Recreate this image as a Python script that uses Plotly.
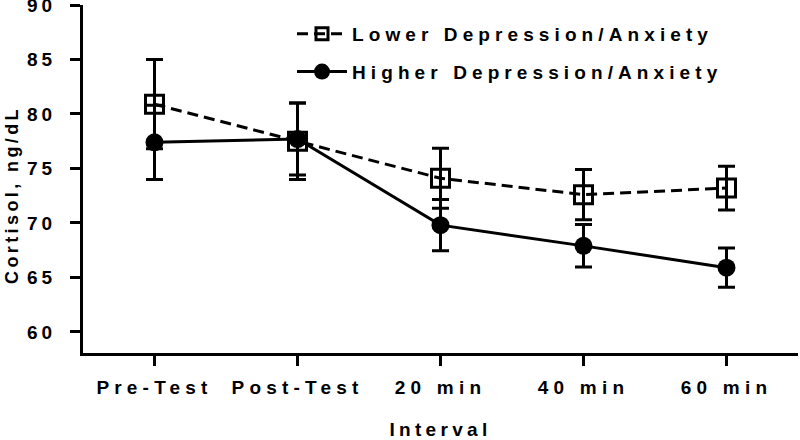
import plotly.graph_objects as go

categories = ["Pre-Test", "Post-Test", "20 min", "40 min", "60 min"]
lower = [80.9, 77.5, 74.1, 72.6, 73.2]
lower_err = [4.1, 3.5, 2.75, 2.3, 2.0]
higher = [77.4, 77.7, 69.8, 67.9, 65.9]
higher_err = [3.4, 3.3, 2.35, 1.95, 1.8]
y_ticks = [60, 65, 70, 75, 80, 85, 90]
series_names = ["Lower Depression/Anxiety", "Higher Depression/Anxiety"]
x_title = "Interval"
y_title = "Cortisol, ng/dL"

LS = "letter-spacing:5.2px"


def sp(t, ls=LS):
    return f'<span style="{ls}">{t}</span>'


xi = list(range(len(categories)))
FAM = "Liberation Sans, Arial, sans-serif"
FS = 19
FONT = dict(family=FAM, size=FS, color="black", weight="bold")

# plot-area geometry (px)
L, R, T, B = 83, 2, 5, 87
PW, PH = 800 - L - R, 440 - T - B

fig = go.Figure()
# data traces
fig.add_trace(go.Scatter(
    x=xi, y=lower, mode="lines+markers", showlegend=False,
    line=dict(color="black", width=3, dash="11px,6px"),
    marker=dict(symbol="square-open", size=18, color="black", line=dict(width=3, color="black")),
    error_y=dict(type="data", array=lower_err, visible=True, color="black", thickness=3, width=8.5),
))
fig.add_trace(go.Scatter(
    x=xi, y=higher, mode="lines+markers", showlegend=False,
    line=dict(color="black", width=3),
    marker=dict(symbol="circle", size=18, color="black"),
    error_y=dict(type="data", array=higher_err, visible=True, color="black", thickness=3, width=8.5),
))
# legend entries
fig.add_trace(go.Scatter(
    x=[None], y=[None], mode="lines+markers", name=sp(series_names[0], "letter-spacing:5.1px"),
    legendgroup="a",
    line=dict(color="black", width=3, dash="11px,6px"),
    marker=dict(symbol="square-open", size=12, color="black", line=dict(width=3, color="black")),
))
fig.add_trace(go.Scatter(
    x=[None], y=[None], mode="lines+markers", name=sp(series_names[1], "letter-spacing:5.1px"),
    legendgroup="b",
    line=dict(color="black", width=3),
    marker=dict(symbol="circle", size=17, color="black"),
))

fig.add_annotation(
    text=sp(y_title, "letter-spacing:3.4px"), textangle=-90,
    xref="paper", yref="paper", x=(12 - L) / PW, y=(440 - B - 195) / PH,
    xanchor="center", yanchor="middle", showarrow=False,
    font=dict(family=FAM, size=18, weight="bold", color="black"),
)

fig.update_layout(
    width=800, height=440,
    margin=dict(l=L, r=R, t=T, b=B, autoexpand=False),
    paper_bgcolor="white", plot_bgcolor="white",
    font=FONT,
    legend=dict(x=(292 - L) / PW, xanchor="left", y=1 - 10 / PH, yanchor="top",
                bgcolor="rgba(0,0,0,0)", itemwidth=50, tracegroupgap=10,
                traceorder="grouped", font=dict(family=FAM, size=FS, weight="bold")),
    xaxis=dict(
        range=[-0.5, 4.5], tickmode="array", tickvals=xi,
        ticktext=[sp(c) for c in categories],
        tickfont=dict(family=FAM, size=FS, weight="bold", color="black"),
        showgrid=False, zeroline=False, showline=True, linecolor="black", linewidth=3,
        ticks="outside", ticklen=10, tickwidth=3, tickcolor="black",
        ticklabelstandoff=5, automargin=False,
        title=dict(text=sp(x_title, "letter-spacing:4.3px"), standoff=28,
                   font=dict(family=FAM, size=FS, weight="bold", color="black")),
    ),
    yaxis=dict(
        range=[58.07, 90], tickmode="array", tickvals=y_ticks,
        ticktext=[sp(str(v), "letter-spacing:4px") for v in y_ticks],
        tickfont=dict(family=FAM, size=FS, weight="bold", color="black"),
        showgrid=False, zeroline=False, showline=True, linecolor="black", linewidth=3,
        ticks="outside", ticklen=10, tickwidth=3, tickcolor="black",
        ticklabelstandoff=10, automargin=False, ticklabeloverflow="allow",
    ),
)

fig.write_html("out.html", config={"displayModeBar": False},
               post_script="document.body.style.margin='0';")
